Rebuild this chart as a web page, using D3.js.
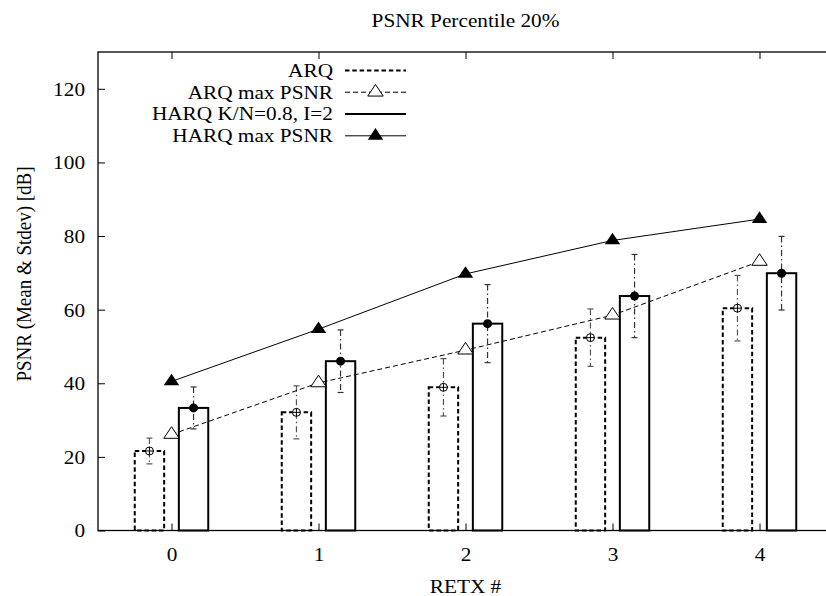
<!DOCTYPE html>
<html>
<head>
<meta charset="utf-8">
<script src="https://cdn.jsdelivr.net/npm/d3@7"></script>
<style>
  html, body { margin: 0; padding: 0; background: #fff; overflow: hidden; }
  svg { display: block; }
  text { font-family: "Liberation Serif", "DejaVu Serif", serif; fill: #000; }
</style>
</head>
<body>
<svg id="chart" width="826" height="596"></svg>
<script>
// Retransmission counts on the x axis
const retx = [0, 1, 2, 3, 4];

// ARQ: mean PSNR and standard deviation per retransmission count
const arqMean = [21.6, 32.1, 38.9, 52.4, 60.4];
const arqStd  = [3.5, 7.2, 7.8, 7.8, 8.9];

// HARQ K/N=0.8, I=2: mean PSNR and standard deviation
const harqMean = [33.3, 46.0, 56.2, 63.7, 69.9];
const harqStd  = [5.7, 8.5, 10.6, 11.3, 10.0];

// Maximum PSNR curves
const arqMax  = [26.1, 40.1, 49.0, 58.5, 73.1];
const harqMax = [40.5, 54.7, 69.7, 78.8, 84.6];

const yTicks = [0, 20, 40, 60, 80, 100, 120];
const legendLabels = ["ARQ", "ARQ max PSNR", "HARQ K/N=0.8, I=2", "HARQ max PSNR"];

const svg = d3.select("#chart");
const pL = 98, pR = 833, pT = 52, pB = 530.5;
const FS = 19;
const SX = 1.12; // horizontal glyph stretch

const x = d3.scaleLinear().domain([-0.5, 4.5]).range([pL, pR]);
const y = d3.scaleLinear().domain([0, 130]).range([pB, pT]);

const boxW = 0.2, boxOff = 0.15;
const dashBar = "4.5,2.8";
const dashLine = "5,3";
const dashDot = "6,3,1.5,3";

// Text placed at (tx, ty) with horizontally widened glyphs
function label(parent, tx, ty, str, anchor) {
  return parent.append("text")
    .attr("transform", `translate(${tx},${ty}) scale(${SX},1)`)
    .attr("text-anchor", anchor || "middle")
    .style("font-size", FS + "px")
    .text(str);
}

// Title
label(svg, (pL + pR) / 2, 27, "PSNR Percentile 20%");

// Axes with inward ticks
const gL = svg.append("g").attr("transform", `translate(${pL},0)`)
  .call(d3.axisLeft(y).tickValues(yTicks).tickSize(-7).tickPadding(13));
const gR = svg.append("g").attr("transform", `translate(${pR},0)`)
  .call(d3.axisRight(y).tickValues(yTicks).tickSize(-7).tickFormat(""));
const gB = svg.append("g").attr("transform", `translate(0,${pB})`)
  .call(d3.axisBottom(x).tickValues(retx).tickSize(-7).tickPadding(0).tickFormat(d3.format("d")));
const gT = svg.append("g").attr("transform", `translate(0,${pT})`)
  .call(d3.axisTop(x).tickValues(retx).tickSize(-7).tickFormat(""));

[gL, gR, gB, gT].forEach(g => {
  g.select(".domain").remove();
  g.selectAll(".tick line").attr("stroke", "#000").attr("stroke-width", 1);
  g.selectAll("text").style("font-size", FS + "px").style("font-family", "Liberation Serif, serif").attr("fill", "#000");
});
gL.selectAll("text").attr("dy", "0.34em").attr("x", -13 / SX).attr("transform", `scale(${SX},1)`);
gB.selectAll("text").attr("y", 30.5).attr("dy", 0).attr("transform", `scale(${SX},1)`);

// Plot border
svg.append("rect")
  .attr("x", pL).attr("y", pT)
  .attr("width", pR - pL).attr("height", pB - pT)
  .attr("fill", "none").attr("stroke", "#000").attr("stroke-width", 1.3);

// Axis labels
label(svg, (pL + pR) / 2, 593, "RETX #");
svg.append("text")
  .attr("transform", `translate(31,274) scale(${SX},1) rotate(-90)`)
  .attr("text-anchor", "middle").style("font-size", FS + "px")
  .text("PSNR (Mean & Stdev) [dB]");

const barW = x(boxW) - x(0);

// ARQ boxes (dashed outline)
svg.append("g").selectAll("rect").data(retx).join("rect")
  .attr("x", d => x(d - boxOff) - barW / 2)
  .attr("y", (d, i) => y(arqMean[i]))
  .attr("width", barW)
  .attr("height", (d, i) => y(0) - y(arqMean[i]))
  .attr("fill", "none").attr("stroke", "#000").attr("stroke-width", 2)
  .attr("stroke-dasharray", dashBar);

// HARQ boxes (solid outline)
svg.append("g").selectAll("rect").data(retx).join("rect")
  .attr("x", d => x(d + boxOff) - barW / 2)
  .attr("y", (d, i) => y(harqMean[i]))
  .attr("width", barW)
  .attr("height", (d, i) => y(0) - y(harqMean[i]))
  .attr("fill", "none").attr("stroke", "#000").attr("stroke-width", 2);

// Error bars (mean ± stdev)
function errorBars(means, stds, off, color) {
  const g = svg.append("g").attr("stroke", color).attr("stroke-width", 1.2).attr("fill", "none");
  retx.forEach((d, i) => {
    const cx = x(d + off);
    const y1 = y(means[i] + stds[i]), y0 = y(means[i] - stds[i]);
    g.append("line").attr("x1", cx).attr("x2", cx).attr("y1", y1).attr("y2", y0)
      .attr("stroke-dasharray", dashDot);
    g.append("line").attr("x1", cx - 3).attr("x2", cx + 3).attr("y1", y1).attr("y2", y1);
    g.append("line").attr("x1", cx - 3).attr("x2", cx + 3).attr("y1", y0).attr("y2", y0);
  });
}
errorBars(arqMean, arqStd, -boxOff, "#555");
errorBars(harqMean, harqStd, boxOff, "#333");

// Mean markers: open circle with cross for ARQ, filled dot for HARQ
const gm = svg.append("g");
retx.forEach((d, i) => {
  const cx = x(d - boxOff), cy = y(arqMean[i]);
  gm.append("circle").attr("cx", cx).attr("cy", cy).attr("r", 4)
    .attr("fill", "#fff").attr("stroke", "#000").attr("stroke-width", 1);
  gm.append("path").attr("d", `M${cx - 4},${cy}H${cx + 4}M${cx},${cy - 4}V${cy + 4}`)
    .attr("stroke", "#000").attr("stroke-width", 1);
  gm.append("circle").attr("cx", x(d + boxOff)).attr("cy", y(harqMean[i])).attr("r", 4.5)
    .attr("fill", "#000");
});

// Triangle marker centred on its centroid
function tri(cx, cy, s) {
  const h = 4 * s / 3;
  return `M${cx},${cy - h}L${cx - h},${cy + 2 * s / 3}L${cx + h},${cy + 2 * s / 3}Z`;
}
const triS = 5.8;

const line = d3.line().x((d, i) => x(retx[i])).y(d => y(d));

// ARQ max PSNR
svg.append("path").datum(arqMax).attr("d", line)
  .attr("fill", "none").attr("stroke", "#000").attr("stroke-width", 1)
  .attr("stroke-dasharray", dashLine);
svg.append("g").selectAll("path").data(arqMax).join("path")
  .attr("d", (d, i) => tri(x(retx[i]), y(d), triS))
  .attr("fill", "#fff").attr("stroke", "#000").attr("stroke-width", 1);

// HARQ max PSNR
svg.append("path").datum(harqMax).attr("d", line)
  .attr("fill", "none").attr("stroke", "#000").attr("stroke-width", 1);
svg.append("g").selectAll("path").data(harqMax).join("path")
  .attr("d", (d, i) => tri(x(retx[i]), y(d), triS))
  .attr("fill", "#000");

// Legend
const legY = [70.5, 92.2, 114, 135.8];
const lx0 = 345, lx1 = 406, lxm = 375.5;
const lg = svg.append("g");
legendLabels.forEach((t, i) => {
  label(lg, 333, legY[i], t, "end").attr("dy", "0.34em");
});
lg.append("line").attr("x1", lx0).attr("x2", lx1).attr("y1", legY[0]).attr("y2", legY[0])
  .attr("stroke", "#000").attr("stroke-width", 2).attr("stroke-dasharray", dashBar);
lg.append("line").attr("x1", lx0).attr("x2", lx1).attr("y1", legY[1]).attr("y2", legY[1])
  .attr("stroke", "#000").attr("stroke-width", 1).attr("stroke-dasharray", dashLine);
lg.append("path").attr("d", tri(lxm, legY[1], triS)).attr("fill", "#fff").attr("stroke", "#000");
lg.append("line").attr("x1", lx0).attr("x2", lx1).attr("y1", legY[2]).attr("y2", legY[2])
  .attr("stroke", "#000").attr("stroke-width", 2);
lg.append("line").attr("x1", lx0).attr("x2", lx1).attr("y1", legY[3]).attr("y2", legY[3])
  .attr("stroke", "#000").attr("stroke-width", 1);
lg.append("path").attr("d", tri(lxm, legY[3], triS)).attr("fill", "#000");
</script>
</body>
</html>
